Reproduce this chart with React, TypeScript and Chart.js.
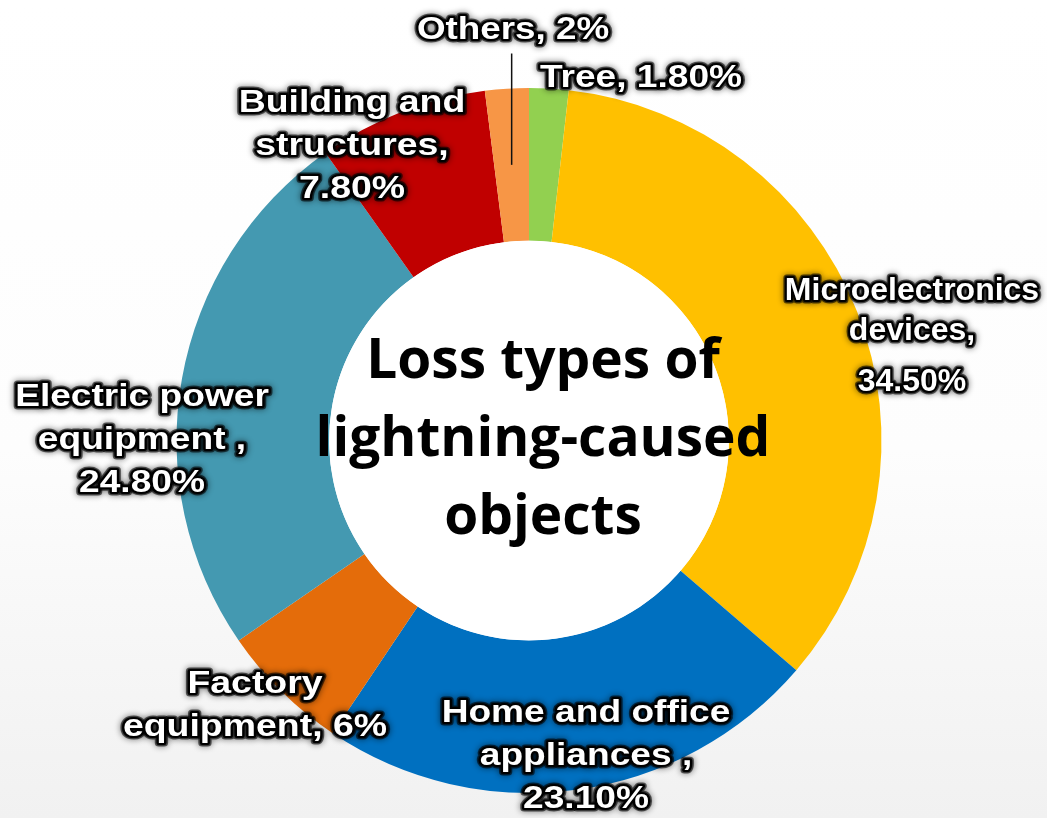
import React, { useEffect, useRef } from "react";
import { Chart, registerables } from "chart.js";

Chart.register(...registerables);

const categories = [
  "Tree",
  "Microelectronics devices",
  "Home and office appliances",
  "Factory equipment",
  "Electric power equipment",
  "Building and structures",
  "Others",
];
const shares = [1.8, 34.5, 23.1, 6, 24.8, 7.8, 2];
const labelLines = [
  ["Tree, 1.80%"],
  ["Microelectronics", "devices,", "34.50%"],
  ["Home and office", "appliances ,", "23.10%"],
  ["Factory", "equipment, 6%"],
  ["Electric power", "equipment ,", "24.80%"],
  ["Building and", "structures,", "7.80%"],
  ["Others, 2%"],
];
const colors = ["#92D050", "#FFC000", "#0070C0", "#E46C0A", "#4499B1", "#C00000", "#F79646"];
// layout: label first-line offsets from the chart centre (px), line gaps and horizontal stretch
const labelOffsets = [
  [112, -362],
  [383, -149],
  [57, 273],
  [-274, 244],
  [-387, -43],
  [-177, -337],
  [-16, -410],
];
const labelGaps = [
  [],
  [40, 51],
  [],
  [],
  [],
  [],
  [],
];
const labelStretch = [1.16, 1.0, 1.16, 1.17, 1.16, 1.17, 1.15];
const centerTitle = ["Loss types of", "lightning-caused", "objects"];

const bgPlugin = {
  id: "bg",
  beforeDraw(chart: any) {
    const { ctx, width, height } = chart;
    ctx.save();
    const g = ctx.createLinearGradient(0, 0, 0, height);
    g.addColorStop(0, "#ffffff");
    g.addColorStop(0.55, "#fdfdfd");
    g.addColorStop(1, "#f1f1f1");
    ctx.fillStyle = g;
    ctx.fillRect(0, 0, width, height);
    ctx.restore();
  },
};

const labelPlugin = {
  id: "labels",
  afterDatasetsDraw(chart: any) {
    const { ctx } = chart;
    const meta = chart.getDatasetMeta(0);
    const arcs = meta.data;
    if (!arcs.length) return;
    const cx = arcs[0].x;
    const cy = arcs[0].y;
    ctx.save();

    // inner white disc + title
    const inner = arcs[0].innerRadius;
    ctx.beginPath();
    ctx.arc(cx, cy, inner, 0, Math.PI * 2);
    ctx.fillStyle = "#ffffff";
    ctx.fill();

    ctx.fillStyle = "#000000";
    ctx.textAlign = "center";
    ctx.textBaseline = "middle";
    ctx.font = "bold 55px 'Open Sans'";
    const tl = 78;
    centerTitle.forEach((t, i) => {
      ctx.fillText(t, cx + 14, cy - tl + i * tl);
    });

    // leader line for Others
    const oi = 6;
    const oa = arcs[oi];
    const mid = (oa.startAngle + oa.endAngle) / 2;
    const rr = (oa.innerRadius + oa.outerRadius) / 2;
    const lx = cx + Math.cos(mid) * rr;
    const ly = cy + Math.sin(mid) * rr;
    ctx.beginPath();
    ctx.moveTo(lx, ly);
    ctx.lineTo(lx, cy + labelOffsets[oi][1] + 23);
    ctx.strokeStyle = "#111111";
    ctx.lineWidth = 1.5;
    ctx.stroke();

    // labels
    ctx.font = "bold 32px 'Liberation Sans', Arial, sans-serif";
    const lh = 43;
    labelLines.forEach((lines, i) => {
      const [dx, dy] = labelOffsets[i];
      const sx = labelStretch[i];
      const bx = cx + dx;
      let y = cy + dy;
      lines.forEach((t, j) => {
        if (j > 0) y += labelGaps[i][j - 1] ?? lh;
        ctx.save();
        ctx.translate(bx, y);
        ctx.scale(sx, 1);
        ctx.save();
        ctx.lineJoin = "round";
        ctx.strokeStyle = "rgba(0,0,0,0.55)";
        ctx.shadowColor = "rgba(0,0,0,0.9)";
        ctx.shadowBlur = 6;
        ctx.lineWidth = 7;
        ctx.strokeText(t, 0, 0);
        ctx.shadowBlur = 2;
        ctx.strokeStyle = "#000000";
        ctx.lineWidth = 4;
        ctx.strokeText(t, 0, 0);
        ctx.restore();
        ctx.fillStyle = "#ffffff";
        ctx.fillText(t, 0, 0);
        ctx.restore();
      });
    });
    ctx.restore();
  },
};

export default function App() {
  const ref = useRef<HTMLCanvasElement | null>(null);
  useEffect(() => {
    document.body.style.margin = "0";
    if (!ref.current) return;
    const chart = new Chart(ref.current, {
      type: "doughnut",
      data: {
        labels: categories,
        datasets: [
          {
            data: shares,
            backgroundColor: colors,
            borderWidth: 0,
          },
        ],
      },
      options: {
        animation: false,
        responsive: false,
        cutout: "56.7%",
        layout: { padding: { left: 176, right: 165, top: 88, bottom: 25 } },
        plugins: {
          legend: { display: false },
          tooltip: { enabled: false },
        },
      },
      plugins: [bgPlugin, labelPlugin],
    });
    return () => chart.destroy();
  }, []);
  return (
    <div style={{ position: "fixed", left: 0, top: 0, width: 1047, height: 818 }}>
      <canvas ref={ref} width={1047} height={818} />
    </div>
  );
}
